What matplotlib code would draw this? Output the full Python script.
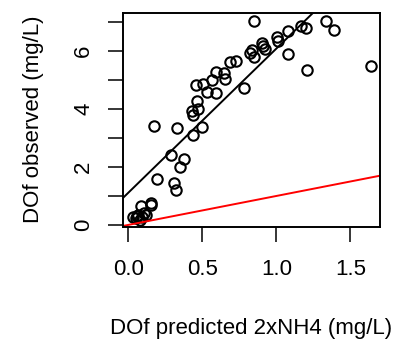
import matplotlib
matplotlib.use("Agg")
import matplotlib.pyplot as plt

plt.rcParams['font.family'] = ['Liberation Sans', 'DejaVu Sans']

# Predicted vs observed DOf (mg/L)
dof_predicted = [
    0.848, 1.338, 1.392, 1.637, 1.082, 1.167, 1.199, 1.082, 1.208, 1.005,
    1.014, 0.904, 0.911, 0.927, 0.821, 0.839, 0.848, 0.686, 0.726, 0.780,
    0.591, 0.645, 0.652, 0.564, 0.461, 0.506, 0.533, 0.591, 0.465, 0.474,
    0.434, 0.438, 0.497, 0.438, 0.331, 0.175, 0.292, 0.375, 0.349, 0.191,
    0.308, 0.326, 0.157, 0.151, 0.088, 0.108, 0.067, 0.034, 0.052, 0.079,
    0.095, 0.120, 0.060,
]
dof_observed = [
    7.05, 7.05, 6.75, 5.49, 6.71, 6.89, 6.82, 5.90, 5.34, 6.48,
    6.36, 6.27, 6.18, 6.09, 5.95, 6.04, 5.79, 5.63, 5.65, 4.73,
    5.30, 5.26, 5.04, 5.01, 4.84, 4.87, 4.60, 4.57, 4.29, 3.99,
    3.95, 3.81, 3.38, 3.12, 3.35, 3.43, 2.42, 2.27, 2.01, 1.60,
    1.44, 1.19, 0.75, 0.70, 0.66, 0.40, 0.35, 0.26, 0.23, 0.17,
    0.28, 0.33, 0.30,
]

# Fitted line and 1:1 line
fit_intercept = 1.11
fit_slope = 4.98

x_ticks = [0.0, 0.5, 1.0, 1.5]
x_tick_labels = ["0.0", "0.5", "1.0", "1.5"]
y_ticks = [0, 1, 2, 3, 4, 5, 6, 7]
y_tick_labels = ["0", "", "2", "", "4", "", "6", ""]

fig = plt.figure(figsize=(4.02, 3.45), dpi=100)
ax = fig.add_axes([0.305, 0.343, 0.640, 0.620])

ax.plot(dof_predicted, dof_observed, linestyle='none', marker='o',
        markerfacecolor='none', markeredgecolor='black',
        markersize=7.5, markeredgewidth=1.5)
ax.axline((0, fit_intercept), slope=fit_slope, color='black', linewidth=1.4)
ax.axline((0, 0), slope=1.0, color='red', linewidth=1.4)

ax.set_xlim(-0.038, 1.70)
ax.set_ylim(-0.06, 7.33)

ax.set_xticks(x_ticks)
ax.set_xticklabels(x_tick_labels)
ax.set_yticks(y_ticks)
ax.set_yticklabels(y_tick_labels, rotation=90, va='center')

ax.tick_params(axis='both', length=10.5, width=1.1, labelsize=16)
ax.tick_params(axis='x', pad=13)
ax.tick_params(axis='y', pad=10)
for s in ax.spines.values():
    s.set_linewidth(1.4)

ax.set_xlabel("DOf predicted 2xNH4 (mg/L)", fontsize=16, labelpad=27)
ax.set_ylabel("DOf observed (mg/L)", fontsize=16, labelpad=21)

fig.savefig("out.png", dpi=100)
